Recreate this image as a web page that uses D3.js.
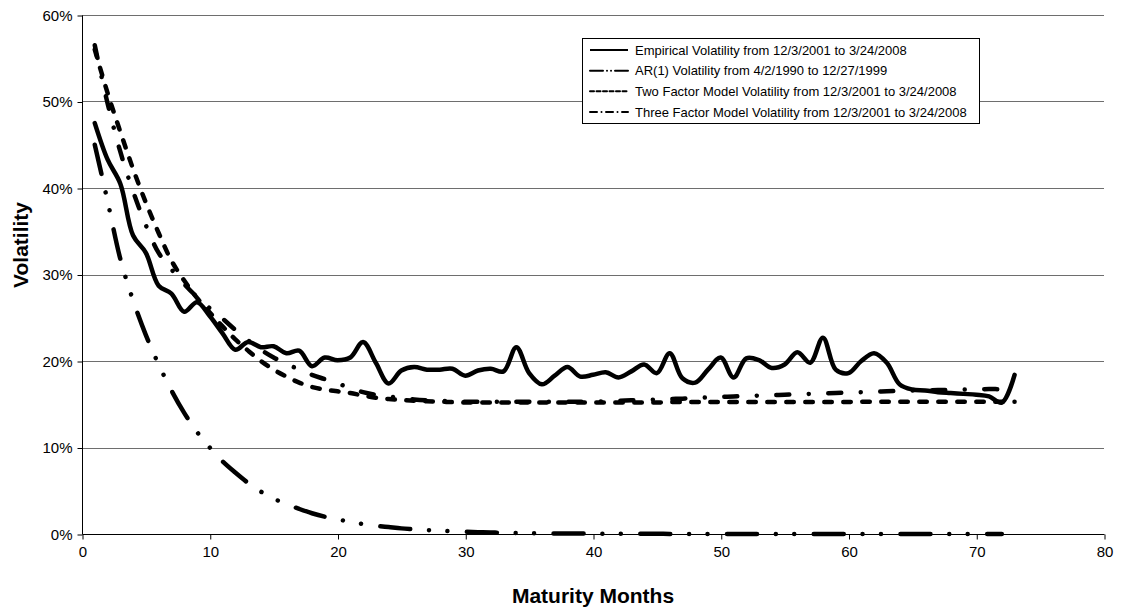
<!DOCTYPE html>
<html>
<head>
<meta charset="utf-8">
<script src="https://cdn.jsdelivr.net/npm/d3@7/dist/d3.min.js"></script>
<style>
  html, body { margin: 0; padding: 0; background: #fff; }
  svg { display: block; font-family: Arial, "Liberation Sans", sans-serif; }
</style>
</head>
<body>
<svg id="chart" width="1133" height="612"></svg>
<script>
// Maturity in months (x) for each curve
const empiricalMonths = d3.range(1, 74);
const modelMonths = d3.range(1, 74);
const arMonths = d3.range(1, 73);

// Volatility in percent
const empirical = [47.5,43.3,40.5,34.5,32.5,28.7,27.8,25.7,26.8,25.2,
  23.2,21.3,22.2,21.6,21.7,20.9,21.2,19.4,20.4,20.1,
  20.4,22.2,19.8,17.4,18.9,19.3,19.0,19.0,19.1,18.3,
  18.9,19.1,18.8,21.6,18.6,17.3,18.3,19.3,18.2,18.4,
  18.7,18.1,18.8,19.6,18.6,20.9,18.0,17.5,19.0,20.4,
  18.1,20.3,20.1,19.2,19.6,21.0,19.8,22.7,19.0,18.6,
  20.0,20.9,19.8,17.3,16.7,16.6,16.4,16.3,16.2,16.1,
  15.9,15.2,18.4];

const arOne = [45.0,38.5,31.8,27.0,23.0,19.6,16.6,14.0,11.8,10.0,
  8.4,7.1,5.9,4.9,4.1,3.45,2.9,2.4,2.0,1.7,
  1.4,1.15,0.95,0.8,0.65,0.55,0.45,0.38,0.31,0.26,
  0.21,0.17,0.14,0.12,0.1,0.08,0.07,0.06,0.05,0.04,
  0.03,0.03,0.02,0.02,0.02,0.01,0.01,0.01,0.01,0.01,
  0.01,0.01,0.01,0.01,0.01,0.01,0.01,0.01,0.01,0.01,
  0.01,0.01,0.01,0.01,0.01,0.01,0.01,0.01,0.01,0.01,
  0.01,0.01];

const twoFactor = [56.0,51.0,46.5,42.2,38.3,34.8,31.6,29.3,27.3,25.6,
  24.0,22.5,21.2,20.0,19.0,18.2,17.5,17.0,16.7,16.5,
  16.3,16.0,15.75,15.6,15.5,15.4,15.35,15.3,15.25,15.2,
  15.2,15.2,15.2,15.2,15.2,15.2,15.2,15.2,15.2,15.2,
  15.2,15.2,15.2,15.2,15.2,15.25,15.25,15.25,15.25,15.25,
  15.25,15.25,15.25,15.25,15.25,15.25,15.25,15.25,15.25,15.25,
  15.3,15.3,15.3,15.3,15.3,15.3,15.3,15.3,15.3,15.3,
  15.3,15.3,15.3];

const threeFactor = [56.5,49.8,44.2,39.6,35.7,32.5,30.6,28.9,27.4,26.1,
  24.9,23.6,22.4,21.3,20.4,19.7,19.0,18.4,17.9,17.4,
  16.9,16.4,16.1,15.9,15.7,15.55,15.45,15.4,15.35,15.3,
  15.3,15.3,15.3,15.3,15.3,15.3,15.3,15.3,15.3,15.3,
  15.35,15.4,15.45,15.5,15.55,15.6,15.65,15.7,15.8,15.85,
  15.9,15.95,16.0,16.05,16.1,16.15,16.2,16.25,16.3,16.35,
  16.4,16.45,16.5,16.55,16.6,16.6,16.65,16.65,16.7,16.7,
  16.75,16.75,16.8];

// Axis ticks
const xTicks = [0, 10, 20, 30, 40, 50, 60, 70, 80];
const yTicks = [0, 10, 20, 30, 40, 50, 60];

const legendLabels = [
  "Empirical Volatility from 12/3/2001 to 3/24/2008",
  "AR(1) Volatility from 4/2/1990 to 12/27/1999",
  "Two Factor Model Volatility from 12/3/2001 to 3/24/2008",
  "Three Factor Model Volatility from 12/3/2001 to 3/24/2008"
];

const series = [
  { name: legendLabels[0], x: empiricalMonths, y: empirical, dash: null, legendDash: null },
  { name: legendLabels[1], x: arMonths, y: arOne, dash: "30,18.8,0.01,18.4,0.01,19.5", legendDash: "13,4,0.01,4,0.01,4" },
  { name: legendLabels[2], x: modelMonths, y: twoFactor, dash: "7.5,11.5", legendDash: "4,2.5" },
  { name: legendLabels[3], x: modelMonths, y: threeFactor, dash: "13,19.5,0.01,19.5", legendDash: "7,4.5,0.01,4.5" }
];

const svg = d3.select("#chart");
const plot = { left: 82, right: 1104, top: 15, bottom: 534 };

const x = d3.scaleLinear().domain([0, 80]).range([plot.left, plot.right]);
const y = d3.scaleLinear().domain([0, 60]).range([plot.bottom, plot.top]);

svg.append("rect").attr("width", 1133).attr("height", 612).attr("fill", "#fff");

// Horizontal gridlines
svg.append("g")
  .selectAll("line")
  .data(yTicks.filter(d => d > 0))
  .join("line")
  .attr("x1", plot.left).attr("x2", plot.right)
  .attr("y1", d => Math.round(y(d)) + 0.5).attr("y2", d => Math.round(y(d)) + 0.5)
  .attr("stroke", "#6e6e6e").attr("stroke-width", 1);

// Axes
const yAxis = d3.axisLeft(y).tickValues(yTicks).tickSize(5).tickPadding(5)
  .tickFormat(d => d + "%");
const xAxis = d3.axisBottom(x).tickValues(xTicks).tickSize(5).tickPadding(7)
  .tickFormat(d3.format("d"));

const gy = svg.append("g").attr("transform", `translate(${plot.left + 0.5},0.5)`).call(yAxis);
const gx = svg.append("g").attr("transform", `translate(0.5,${plot.bottom + 0.5})`).call(xAxis);

[gx, gy].forEach(g => {
  g.select(".domain").attr("stroke", "#000").attr("stroke-width", 1);
  g.selectAll(".tick line").attr("stroke", "#000");
  g.selectAll(".tick text").attr("fill", "#000")
    .style("font-size", "15px").style("font-family", "Arial, 'Liberation Sans', sans-serif");
});
gy.select(".domain").attr("d", `M0,${plot.bottom}V${plot.top}`);
gx.select(".domain").attr("d", `M${plot.left},0H${plot.right}`);

// Axis titles
svg.append("text")
  .attr("x", (plot.left + plot.right) / 2)
  .attr("y", 603)
  .attr("text-anchor", "middle")
  .style("font-size", "21px").style("font-weight", "bold")
  .text("Maturity Months");

svg.append("text")
  .attr("transform", `translate(28,${245}) rotate(-90)`)
  .attr("text-anchor", "middle")
  .style("font-size", "21px").style("font-weight", "bold")
  .text("Volatility");

// Curves
const line = d3.line()
  .x(d => x(d[0]))
  .y(d => y(d[1]))
  .curve(d3.curveCatmullRom.alpha(0.5));

const curves = svg.append("g").attr("fill", "none").attr("stroke", "#000");
series.slice().reverse().forEach(s => {
  const pts = s.x.map((m, i) => [m, s.y[i]]);
  curves.append("path")
    .attr("d", line(pts))
    .attr("stroke-width", 4.5)
    .attr("stroke-linecap", "round")
    .attr("stroke-linejoin", "round")
    .attr("stroke-dasharray", s.dash);
});

// Legend
const lg = svg.append("g");
const box = { x: 582, y: 38, w: 397, h: 85 };
lg.append("rect")
  .attr("x", box.x + 0.5).attr("y", box.y + 0.5)
  .attr("width", box.w).attr("height", box.h)
  .attr("fill", "#fff").attr("stroke", "#000").attr("stroke-width", 1);

const rowY = d3.scaleLinear().domain([0, 3]).range([50, 112]);
series.forEach((s, i) => {
  const yy = rowY(i);
  lg.append("line")
    .attr("x1", 590).attr("x2", 628)
    .attr("y1", yy).attr("y2", yy)
    .attr("stroke", "#000").attr("stroke-width", 2)
    .attr("stroke-linecap", s.legendDash ? "round" : "butt")
    .attr("stroke-dasharray", s.legendDash);
  lg.append("text")
    .attr("x", 635).attr("y", yy)
    .attr("dy", "0.35em")
    .style("font-size", "13px")
    .text(s.name);
});
</script>
</body>
</html>
